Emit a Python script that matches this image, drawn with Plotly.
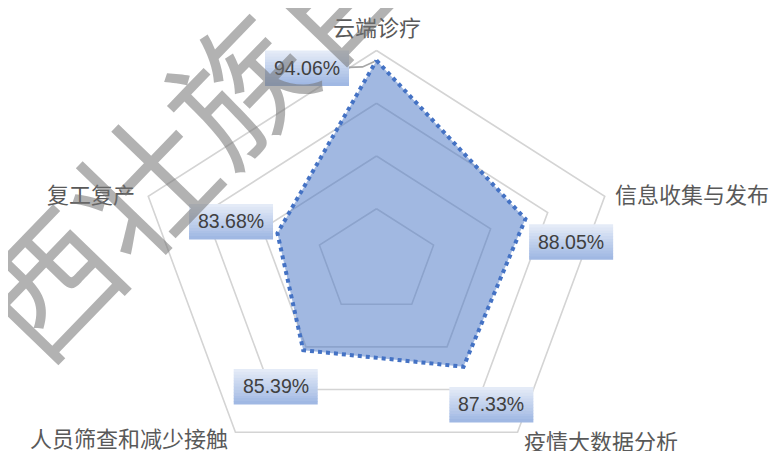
import numpy as np
import plotly.graph_objects as go

# ---------------- data ----------------
categories = ["云端诊疗", "信息收集与发布", "疫情大数据分析", "人员筛查和减少接触", "复工复产"]
values = [94.06, 88.05, 87.33, 85.39, 83.68]
radial_min, radial_max = 75, 95
grid_ticks = [80, 85, 90, 95]
watermark_text = "西壮族自"

# ---------------- layout / style constants ----------------
PAGE_MARGIN = 8                 # default <body> margin of the html page
W, H = 784 - PAGE_MARGIN, 451 - PAGE_MARGIN
CX, CY = 376.5 - PAGE_MARGIN, 261.5 - PAGE_MARGIN   # pixel centre of the radar (figure coords)
RX, RY = 240.0, 211.0          # pixel radius (horizontal / vertical)

LINE_BLUE = "#4472C4"
FILL_BLUE = "rgba(68,114,196,0.5)"
GRID_COLOR = "#d4d4d4"
CAT_COLOR = "#595959"
LABEL_COLOR = "#404040"

# data-label box centre offsets from the point (px, screen-down positive)
label_offsets = [(-69.5, 7.5), (45.7, 22.9), (27.9, 37.7), (-27.5, 36.2), (-46.4, -11.8)]
BOX_W, BOX_H = 84, 35
# category label placement relative to outer vertex: (xanchor, xshift, yshift)
cat_place = [("center", 0, 24.5), ("left", 8, 3), ("left", 4, -8), ("right", -5, -5), ("right", -11, 3)]

n = len(categories)
theta = np.deg2rad(90 - 72 * np.arange(n))


def polar_xy(v, k):
    rn = (v - radial_min) / (radial_max - radial_min)
    return rn * np.cos(theta[k]), rn * np.sin(theta[k])


fig = go.Figure()

# grid pentagons
for t in grid_ticks:
    pts = [polar_xy(t, k) for k in range(n)] + [polar_xy(t, 0)]
    fig.add_trace(go.Scatter(
        x=[p[0] for p in pts], y=[p[1] for p in pts], mode="lines",
        line=dict(color=GRID_COLOR, width=1.6), hoverinfo="skip", showlegend=False))

# data polygon
pts = [polar_xy(v, k) for k, v in enumerate(values)]
pts.append(pts[0])
fig.add_trace(go.Scatter(
    x=[p[0] for p in pts], y=[p[1] for p in pts], mode="lines",
    fill="toself", fillcolor=FILL_BLUE,
    line=dict(color=LINE_BLUE, width=4, dash="4px,4px"),
    showlegend=False))

shapes = []
annotations = []

top_c = np.array([228, 235, 247])
bot_c = np.array([160, 184, 227])
strips = 12
for k, v in enumerate(values):
    px, py = polar_xy(v, k)
    dx, dy = label_offsets[k]
    top = -dy + BOX_H / 2
    h = BOX_H / strips
    for i in range(strips):
        c = top_c + (bot_c - top_c) * (i / (strips - 1))
        shapes.append(dict(
            type="rect", layer="above",
            xref="x", yref="y", xsizemode="pixel", ysizemode="pixel",
            xanchor=px, yanchor=py,
            x0=dx - BOX_W / 2, x1=dx + BOX_W / 2,
            y0=top - (i + 1) * h - 0.5, y1=top - i * h,
            fillcolor="rgb(%d,%d,%d)" % tuple(int(round(ci)) for ci in c),
            line=dict(width=0)))
    annotations.append(dict(
        x=px, y=py, xref="x", yref="y", xshift=dx, yshift=-dy,
        text=f"{v:.2f}%", showarrow=False,
        font=dict(family="Liberation Sans, Arial", size=19.5, color=LABEL_COLOR)))

# leader line for the top label
px0, py0 = polar_xy(values[0], 0)
shapes.append(dict(
    type="path", layer="above", xref="x", yref="y",
    xsizemode="pixel", ysizemode="pixel", xanchor=px0, yanchor=py0,
    path="M -27.5 -7 L -14 -6.5 L -2 -1",
    line=dict(color="#a6a6a6", width=1.6)))

# category labels
for k, name in enumerate(categories):
    vx, vy = polar_xy(radial_max, k)
    anchor, xs, ys = cat_place[k]
    annotations.append(dict(
        x=vx, y=vy, xref="x", yref="y", xshift=xs, yshift=ys,
        xanchor=anchor, yanchor="middle", text=name, showarrow=False,
        font=dict(family="Noto Sans CJK SC", size=22, color=CAT_COLOR)))

# watermark
annotations.append(dict(
    x=(186 - PAGE_MARGIN) / W, y=1 - (132 - PAGE_MARGIN) / H, xref="paper", yref="paper",
    xanchor="center", yanchor="middle",
    text=watermark_text, showarrow=False, textangle=-46,
    font=dict(family="Noto Sans CJK SC", size=136, color="rgba(115,115,115,0.55)")))

fig.update_layout(
    width=W, height=H,
    margin=dict(l=0, r=0, t=0, b=0, autoexpand=False),
    paper_bgcolor="white", plot_bgcolor="white",
    xaxis=dict(range=[-CX / RX, (W - CX) / RX], visible=False, fixedrange=True),
    yaxis=dict(range=[-(H - CY) / RY, CY / RY], visible=False, fixedrange=True),
    shapes=shapes, annotations=annotations,
    showlegend=False,
)

fig.write_html("out.html")
